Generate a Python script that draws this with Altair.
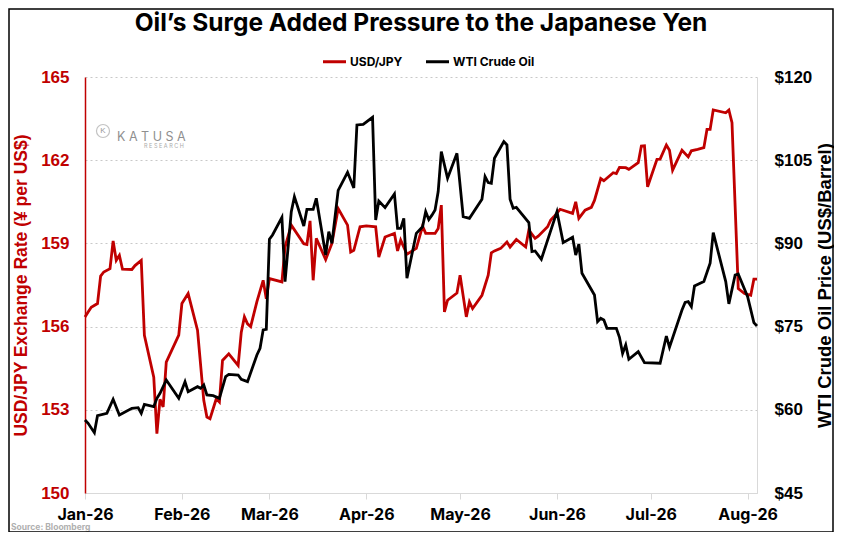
import altair as alt
import pandas as pd

# USD/JPY daily close, 2026
jpy_dates = [
    "01-01", "01-02", "01-03", "01-05", "01-06", "01-07", "01-09", "01-10", "01-11", "01-12",
    "01-13", "01-16", "01-17", "01-19", "01-20", "01-23", "01-24", "01-25", "01-26", "01-27",
    "01-31", "02-01", "02-03", "02-06", "02-08", "02-09", "02-10", "02-12", "02-13", "02-14",
    "02-16", "02-19", "02-20", "02-21", "02-22", "02-23", "02-25", "02-27", "02-28", "03-01",
    "03-05", "03-06", "03-08", "03-12", "03-13", "03-14", "03-15", "03-16", "03-19", "03-21",
    "03-23", "03-26", "03-27", "03-28", "03-30", "04-01", "04-04", "04-05", "04-07", "04-10",
    "04-11", "04-12", "04-14", "04-17", "04-19", "04-20", "04-23", "04-24", "04-25", "04-26",
    "04-27", "04-30", "05-01", "05-03", "05-04", "05-05", "05-08", "05-09", "05-10", "05-11",
    "05-12", "05-14", "05-16", "05-17", "05-19", "05-22", "05-23", "05-25", "05-26", "05-29",
    "05-30", "05-31", "06-02", "06-06", "06-07", "06-08", "06-10", "06-12", "06-13", "06-15",
    "06-16", "06-19", "06-20", "06-21", "06-23", "06-24", "06-27", "06-28", "06-29", "06-30",
    "07-03", "07-04", "07-06", "07-07", "07-08", "07-11", "07-13", "07-14", "07-16", "07-18",
    "07-19", "07-20", "07-21", "07-25", "07-26", "07-27", "07-29", "07-31", "08-02", "08-03",
    "08-04",
]
jpy_values = [
    156.35, 156.53, 156.70, 156.83, 157.82, 157.97, 158.09, 159.09, 158.39, 158.57,
    158.07, 158.06, 158.20, 158.39, 155.69, 154.18, 152.14, 153.38, 153.10, 154.72,
    155.69, 156.83, 157.19, 155.87, 153.34, 152.74, 152.68, 153.40, 153.28, 154.78,
    155.02, 154.60, 155.80, 156.35, 156.10, 156.00, 156.90, 157.67, 157.00, 157.73,
    157.61, 158.87, 159.66, 158.99, 158.96, 159.81, 157.67, 159.18, 158.42, 159.00,
    160.26, 159.66, 158.69, 158.75, 159.60, 159.63, 159.60, 158.51, 159.23, 159.36,
    158.73, 159.12, 158.61, 158.82, 159.62, 159.36, 159.36, 159.54, 160.38, 156.53,
    156.95, 157.21, 157.85, 156.35, 156.89, 156.65, 157.13, 157.49, 157.85, 158.66,
    158.73, 158.82, 159.05, 158.87, 159.14, 158.87, 159.48, 159.18, 159.26, 159.60,
    159.84, 159.96, 160.23, 160.08, 160.50, 159.90, 160.20, 160.30, 160.55, 161.34,
    161.26, 161.55, 161.52, 161.74, 161.73, 161.67, 161.91, 162.51, 162.52, 161.04,
    162.03, 162.04, 162.55, 162.36, 161.64, 162.36, 162.12, 162.34, 162.39, 162.45,
    163.11, 163.11, 163.81, 163.71, 163.81, 163.35, 157.37, 157.19, 157.13, 157.71,
    157.71,
]

# WTI crude oil, US$/barrel
oil_dates = [
    "01-01", "01-02", "01-04", "01-05", "01-08", "01-10", "01-12", "01-16", "01-18", "01-19",
    "01-20", "01-23", "01-24", "01-25", "01-27", "01-31", "02-02", "02-03", "02-06", "02-07",
    "02-08", "02-09", "02-11", "02-13", "02-15", "02-16", "02-19", "02-20", "02-22", "02-25",
    "02-26", "02-27", "02-28", "03-01", "03-02", "03-05", "03-06", "03-08", "03-09", "03-12",
    "03-13", "03-15", "03-16", "03-19", "03-20", "03-21", "03-23", "03-26", "03-28", "03-29",
    "03-31", "04-03", "04-04", "04-05", "04-07", "04-10", "04-11", "04-12", "04-13", "04-14",
    "04-17", "04-19", "04-20", "04-21", "04-22", "04-23", "04-24", "04-25", "04-27", "04-30",
    "05-02", "05-04", "05-08", "05-09", "05-10", "05-11", "05-12", "05-15", "05-16", "05-17",
    "05-18", "05-19", "05-23", "05-24", "05-25", "05-27", "06-01", "06-03", "06-06", "06-07",
    "06-08", "06-09", "06-13", "06-14", "06-15", "06-16", "06-17", "06-20", "06-21", "06-22",
    "06-23", "06-24", "06-27", "06-29", "07-04", "07-06", "07-07", "07-11", "07-12", "07-13",
    "07-14", "07-15", "07-18", "07-20", "07-21", "07-25", "07-26", "07-28", "07-29", "08-01",
    "08-03", "08-04",
]
oil_values = [
    58.17, 57.57, 55.88, 58.94, 59.37, 61.90, 59.06, 60.27, 60.39, 59.37,
    60.99, 60.57, 62.07, 62.97, 65.37, 62.07, 65.07, 63.27, 64.17, 63.87,
    64.47, 62.67, 62.55, 62.07, 65.97, 66.39, 66.27, 65.49, 65.07, 69.88,
    71.09, 74.39, 74.50, 90.74, 91.52, 94.70, 83.10, 95.72, 98.43, 93.14,
    96.15, 96.15, 98.13, 87.91, 92.12, 90.02, 99.56, 102.81, 99.98, 111.35,
    111.47, 112.73, 94.22, 97.65, 96.45, 98.91, 92.72, 92.72, 94.52, 83.71,
    91.82, 93.00, 95.72, 94.30, 95.10, 96.02, 99.34, 106.55, 101.74, 106.25,
    94.83, 94.52, 97.95, 102.05, 100.97, 100.85, 105.35, 108.35, 107.75, 97.95,
    96.33, 96.51, 93.74, 88.52, 88.63, 87.14, 95.72, 90.14, 91.10, 87.91,
    89.89, 84.61, 80.70, 75.89, 76.50, 76.19, 74.69, 74.69, 73.07, 70.19,
    71.69, 69.11, 70.49, 68.51, 68.39, 73.30, 71.27, 77.99, 79.37, 79.49,
    78.60, 82.32, 83.12, 86.41, 91.94, 83.12, 79.10, 84.30, 84.49, 80.40,
    75.72, 75.12,
]

series_names = ["USD/JPY", "WTI Crude Oil"]
jpy_ticks = [150, 153, 156, 159, 162, 165]
oil_ticks = [45, 60, 75, 90, 105, 120]
title_text = "Oil\u2019s Surge Added Pressure to the Japanese Yen"

RED = "#C00000"
GREY = "#d9d9d9"
NUM_FONT = "Liberation Sans"
TXT_FONT = "Inter"

jpy = pd.DataFrame({
    "date": ["2026-" + d + "T00:00:00" for d in jpy_dates],
    "value": jpy_values,
    "series": series_names[0],
})
oil = pd.DataFrame({
    "date": ["2026-" + d + "T00:00:00" for d in oil_dates],
    "value": oil_values,
    "series": series_names[1],
})
frame = pd.concat([jpy, oil], ignore_index=True)

months = [alt.DateTime(year=2026, month=m, date=1) for m in range(1, 9)]

x = alt.X(
    "date:T",
    scale=alt.Scale(domain=[alt.DateTime(year=2026, month=1, date=1),
                            alt.DateTime(year=2026, month=8, date=4)]),
    axis=alt.Axis(
        values=months, format="%b-%y", title=None, grid=False,
        domainColor=GREY, tickColor=GREY, tickSize=6, labelPadding=7,
        labelFont=TXT_FONT, labelFontSize=16, labelFontWeight="bold",
        labelColor="black", labelFlush=False,
    ),
)

color = alt.Color(
    "series:N",
    scale=alt.Scale(domain=series_names, range=[RED, "black"]),
    legend=alt.Legend(
        title=None, orient="none", direction="horizontal", legendX=236, legendY=-29,
        symbolType="stroke", symbolSize=530, symbolStrokeWidth=3, labelOffset=2,
        columnPadding=16, padding=0,
        labelFont=TXT_FONT, labelFontSize=12, labelFontWeight="bold", labelColor="black",
    ),
)

base = alt.Chart(frame).encode(x=x, color=color)

jpy_line = (
    base.transform_filter(alt.datum.series == series_names[0])
    .mark_line(strokeWidth=2.8)
    .encode(
        y=alt.Y(
            "value:Q",
            scale=alt.Scale(domain=[150, 165], nice=False, zero=False),
            axis=alt.Axis(
                values=jpy_ticks, title="USD/JPY Exchange Rate (¥ per US$)",
                titleColor=RED, titleFont=NUM_FONT, titleFontSize=17.5, titleFontWeight="bold",
                titlePadding=10, labelColor=RED, labelFont=NUM_FONT, labelFontSize=17,
                labelFontWeight="bold", labelPadding=16, ticks=False,
                domainColor=RED, domainWidth=1.5,
                grid=True, gridColor="#c8c8c8", gridDash=[2, 3],
            ),
        )
    )
)

oil_line = (
    base.transform_filter(alt.datum.series == series_names[1])
    .mark_line(strokeWidth=2.8)
    .encode(
        y=alt.Y(
            "value:Q",
            scale=alt.Scale(domain=[45, 120], nice=False, zero=False),
            axis=alt.Axis(
                orient="right", values=oil_ticks, labelExpr="'$' + datum.value",
                title="WTI Crude Oil Price (US$/Barrel)", titleAngle=270, titleBaseline="top",
                titleColor="black", titleFont=NUM_FONT, titleFontSize=18.5, titleFontWeight="bold",
                titlePadding=4, labelColor="black", labelFont=NUM_FONT, labelFontSize=17,
                labelFontWeight="bold", labelPadding=17, ticks=False,
                domainColor=GREY, grid=False,
            ),
        )
    )
)

# chart title, watermark, source note, outer frame
title = alt.Chart(pd.DataFrame({"t": [title_text]})).mark_text(
    font=TXT_FONT, fontSize=24.5, fontWeight="bold", color="black", align="center", baseline="middle"
).encode(text="t:N", x=alt.value(336), y=alt.value(-53))
logo_ring = alt.Chart(pd.DataFrame({"k": ["K"]})).mark_point(
    shape="circle", size=170, stroke="#aaaaaa", strokeWidth=1.2, filled=False
).encode(x=alt.value(18), y=alt.value(54))
logo_k = alt.Chart(pd.DataFrame({"k": ["K"]})).mark_text(
    font=NUM_FONT, fontSize=8, color="#999999"
).encode(text="k:N", x=alt.value(18), y=alt.value(54))
logo_name = alt.Chart(pd.DataFrame({"t": ["K A T U S A"]})).mark_text(
    font=TXT_FONT, fontSize=12.5, color="#8f8f8f", align="left", baseline="middle"
).encode(text="t:N", x=alt.value(32), y=alt.value(60))
logo_sub = alt.Chart(pd.DataFrame({"t": ["R E S E A R C H"]})).mark_text(
    font=TXT_FONT, fontSize=5.5, color="#aaaaaa", align="left", baseline="middle"
).encode(text="t:N", x=alt.value(59), y=alt.value(69))
source = alt.Chart(pd.DataFrame({"t": ["Source: Bloomberg"]})).mark_text(
    font=TXT_FONT, fontSize=8.5, fontWeight="bold", color="#b0b0b0", align="left", baseline="alphabetic"
).encode(text="t:N", x=alt.value(-74), y=alt.value(453))
border = alt.Chart(pd.DataFrame({"b": [0]})).mark_rect(
    fill=None, stroke="black", strokeWidth=1.5
).encode(x=alt.value(-76), x2=alt.value(748), y=alt.value(-68), y2=alt.value(455))

chart = (
    alt.layer(jpy_line, oil_line, title, logo_ring, logo_k, logo_name, logo_sub, source, border)
    .resolve_scale(y="independent")
    .properties(
        width=672, height=416,
        padding={"left": 77, "top": 69, "right": 77, "bottom": 39},
        autosize=alt.AutoSizeParams(type="none"),
    )
    .configure_view(stroke=None)
)

chart.save("out.html", embed_options={"renderer": "svg", "actions": False})
